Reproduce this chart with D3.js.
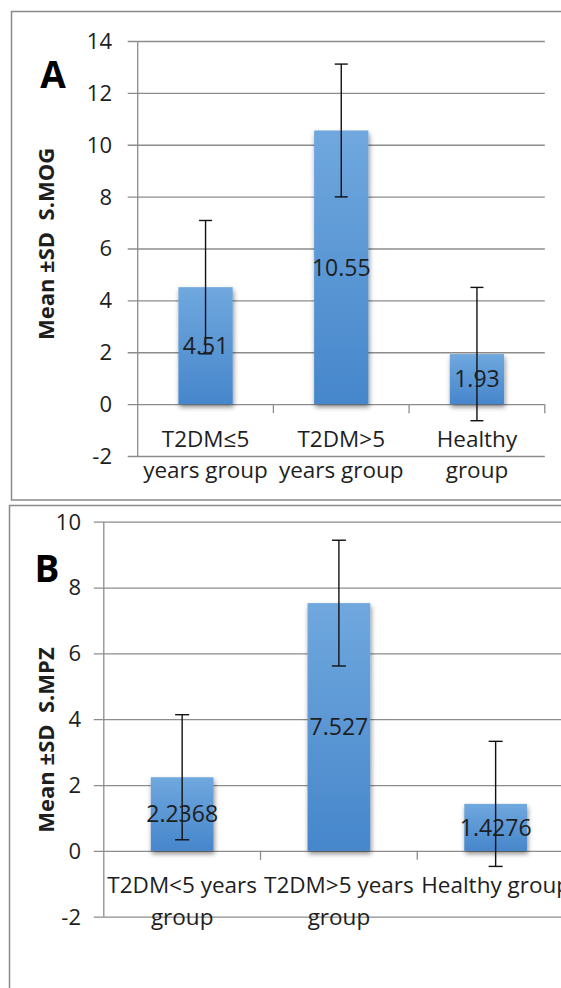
<!DOCTYPE html>
<html>
<head>
<meta charset="utf-8">
<script src="https://cdn.jsdelivr.net/npm/d3@7"></script>
<style>
  body { margin: 0; background: #fff; }
  text { font-family: "Open Sans", "Noto Sans", sans-serif; fill: #1e1e1e; }
</style>
</head>
<body>
<script>
// ---- panel A data (S.MOG) ----
var catsA = [["T2DM≤5", "years group"], ["T2DM>5", "years group"], ["Healthy", "group"]];
var meansA = [4.51, 10.55, 1.93];
var sdA = [2.57, 2.56, 2.57];
var labelsA = ["4.51", "10.55", "1.93"];
var ticksA = [-2, 0, 2, 4, 6, 8, 10, 12, 14];

// ---- panel B data (S.MPZ) ----
var catsB = [["T2DM<5 years", "group"], ["T2DM>5 years", "group"], ["Healthy group"]];
var meansB = [2.2368, 7.527, 1.4276];
var sdB = [1.9, 1.91, 1.9];
var labelsB = ["2.2368", "7.527", "1.4276"];
var ticksB = [-2, 0, 2, 4, 6, 8, 10];

let w = 561;
let h = 988;

let svg = d3.select("body")
            .append("svg")
            .attr("width", w)
            .attr("height", h);

//====bar gradient + soft shadow====//
let defs = svg.append("defs");
let grad = defs.append("linearGradient")
               .attr("id", "barGrad")
               .attr("x1", 0).attr("y1", 0)
               .attr("x2", 0).attr("y2", 1);
grad.append("stop").attr("offset", "0%").attr("stop-color", "#70a8de");
grad.append("stop").attr("offset", "100%").attr("stop-color", "#4686cb");

let shadow = defs.append("filter")
                 .attr("id", "shadow")
                 .attr("x", "-30%").attr("y", "-10%")
                 .attr("width", "160%").attr("height", "130%");
shadow.append("feDropShadow")
      .attr("dx", 1).attr("dy", 3)
      .attr("stdDeviation", 2.5)
      .attr("flood-color", "#000")
      .attr("flood-opacity", 0.45);

function drawPanel(p) {
  let g = svg.append("g");

  // frame
  g.append("rect")
   .attr("x", p.frame[0]).attr("y", p.frame[1])
   .attr("width", p.frame[2]).attr("height", p.frame[3])
   .attr("fill", "none")
   .attr("stroke", "#8a8a8a")
   .attr("stroke-width", 1.5);

  let y = d3.scaleLinear().domain(p.domain).range(p.yRange);
  let idx = p.means.map(function(d, i){ return i; });

  // category slots (for ticks + labels) and bars
  let x = d3.scaleBand().domain(idx).range(p.xRange).padding(0);
  let xb = d3.scaleBand().domain(idx).range(p.xRange)
             .paddingInner(0.6).paddingOuter(0.3);

  // gridlines + y ticks
  let yAxis = d3.axisLeft(y)
                .tickValues(p.ticks)
                .tickSize(-(p.xRange[1] - p.xRange[0]))
                .tickPadding(0)
                .tickFormat("");
  let ga = g.append("g")
            .attr("transform", "translate(" + p.xRange[0] + ",0)")
            .call(yAxis);
  ga.select(".domain").remove();
  ga.selectAll(".tick line")
    .attr("x1", -10)
    .attr("stroke", "#8c8c8c")
    .attr("stroke-width", 1.3);

  g.selectAll("text.ytick")
   .data(p.ticks)
   .enter()
   .append("text")
   .attr("class", "ytick")
   .text(function(d){ return d; })
   .attr("x", p.tickRight)
   .attr("y", function(d){ return y(d); })
   .attr("dy", "0.36em")
   .attr("text-anchor", "end")
   .attr("font-size", "22px");

  // y axis line
  g.append("line")
   .attr("x1", p.xRange[0]).attr("x2", p.xRange[0])
   .attr("y1", y(p.domain[0])).attr("y2", y(p.domain[1]))
   .attr("stroke", "#8c8c8c")
   .attr("stroke-width", 1.3);

  // x category ticks on the zero line
  g.selectAll("line.xtick")
   .data(idx)
   .enter()
   .append("line")
   .attr("class", "xtick")
   .attr("x1", function(d){ return x(d) + x.bandwidth(); })
   .attr("x2", function(d){ return x(d) + x.bandwidth(); })
   .attr("y1", y(0))
   .attr("y2", y(0) + 9)
   .attr("stroke", "#8c8c8c")
   .attr("stroke-width", 1.3);

  // bars
  g.selectAll("rect.bar")
   .data(p.means)
   .enter()
   .append("rect")
   .attr("class", "bar")
   .attr("x", function(d, i){ return xb(i); })
   .attr("y", function(d){ return y(d); })
   .attr("width", xb.bandwidth())
   .attr("height", function(d){ return y(0) - y(d); })
   .attr("fill", "url(#barGrad)")
   .attr("filter", "url(#shadow)");

  // error bars
  let eb = g.selectAll("g.err")
            .data(p.means)
            .enter()
            .append("g")
            .attr("class", "err")
            .attr("stroke", "#111")
            .attr("stroke-width", 1.4);
  eb.append("line")
    .attr("x1", function(d, i){ return xb(i) + xb.bandwidth() / 2; })
    .attr("x2", function(d, i){ return xb(i) + xb.bandwidth() / 2; })
    .attr("y1", function(d, i){ return y(d + p.sd[i]); })
    .attr("y2", function(d, i){ return y(d - p.sd[i]); });
  [1, -1].forEach(function(s){
    eb.append("line")
      .attr("x1", function(d, i){ return xb(i) + xb.bandwidth() / 2 - p.cap / 2; })
      .attr("x2", function(d, i){ return xb(i) + xb.bandwidth() / 2 + p.cap / 2; })
      .attr("y1", function(d, i){ return y(d + s * p.sd[i]); })
      .attr("y2", function(d, i){ return y(d + s * p.sd[i]); });
  });

  // value labels, centred in the bar
  g.selectAll("text.val")
   .data(p.means)
   .enter()
   .append("text")
   .attr("class", "val")
   .text(function(d, i){ return p.labels[i]; })
   .attr("x", function(d, i){ return xb(i) + xb.bandwidth() / 2; })
   .attr("y", function(d){ return (y(d) + y(0)) / 2; })
   .attr("dy", "0.36em")
   .attr("text-anchor", "middle")
   .attr("font-size", "23px");

  // category labels
  let cl = g.selectAll("text.cat")
            .data(p.cats)
            .enter()
            .append("text")
            .attr("class", "cat")
            .attr("text-anchor", "middle")
            .attr("font-size", p.catSize);
  cl.selectAll("tspan")
    .data(function(d, i){ return d.map(function(s){ return { s: s, i: i }; }); })
    .enter()
    .append("tspan")
    .text(function(d){ return d.s; })
    .attr("x", function(d){ return x(d.i) + x.bandwidth() / 2; })
    .attr("y", function(d, j){ return p.catY + j * p.catLine; });

  // y title
  g.append("text")
   .text(p.title)
   .attr("transform", "translate(" + p.titlePos[0] + "," + p.titlePos[1] + ") rotate(-90)")
   .attr("text-anchor", "middle")
   .attr("font-weight", "bold")
   .attr("font-size", "22px")
   .style("white-space", "pre");

  // panel letter
  g.append("text")
   .text(p.letter)
   .attr("x", p.letterPos[0])
   .attr("y", p.letterPos[1])
   .attr("text-anchor", "middle")
   .attr("font-weight", "bold")
   .attr("font-size", "37px")
   .style("fill", "#000");
}

drawPanel({
  frame: [11.5, 11.5, 600, 488.5],
  domain: [-2, 14], yRange: [456, 41], xRange: [137.7, 544.8],
  ticks: ticksA, means: meansA, sd: sdA, labels: labelsA, cats: catsA,
  tickRight: 112, cap: 13, catSize: "22.5px", catY: 447, catLine: 31,
  title: "Mean ±SD  S.MOG", titlePos: [54, 244],
  letter: "A", letterPos: [53, 88]
});

drawPanel({
  frame: [9.5, 505.5, 600, 600],
  domain: [-2, 10], yRange: [916.7, 521.7], xRange: [103.8, 574],
  ticks: ticksB, means: meansB, sd: sdB, labels: labelsB, cats: catsB,
  tickRight: 81, cap: 14, catSize: "22.5px", catY: 893, catLine: 32,
  title: "Mean ±SD  S.MPZ", titlePos: [54, 740],
  letter: "B", letterPos: [47, 582]
});
</script>
</body>
</html>
